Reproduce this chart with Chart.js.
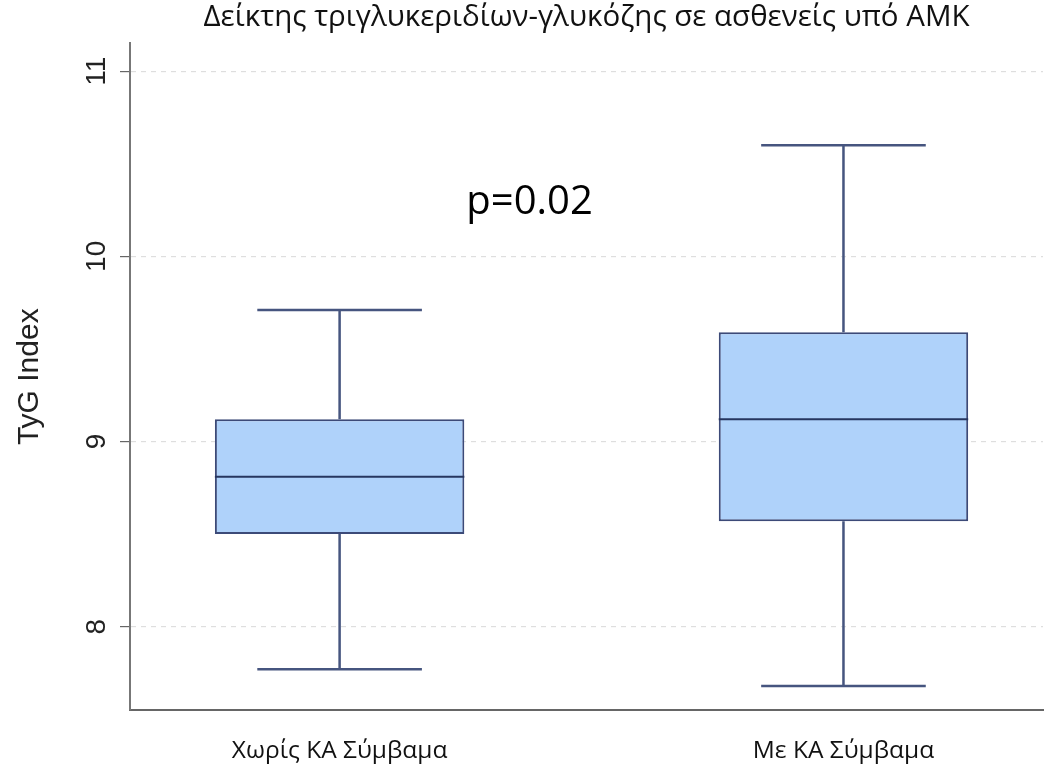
<!DOCTYPE html>
<html>
<head>
<meta charset="utf-8">
<script src="https://cdn.jsdelivr.net/npm/chart.js@4.4.0/dist/chart.umd.min.js"></script>
<style>
  html, body { margin: 0; padding: 0; background: #fff; }
  #wrap { width: 1045px; height: 767px; }
</style>
</head>
<body>
<div id="wrap"><canvas id="boxChart"></canvas></div>
<script>
// values
const groups = ['Χωρίς ΚΑ Σύμβαμα', 'Με ΚΑ Σύμβαμα'];
const groupPos = [1, 2];
const whiskerLow = [7.77, 7.68];
const q1 = [8.50, 8.57];
const median = [8.81, 9.12];
const q3 = [9.12, 9.59];
const whiskerHigh = [9.71, 10.60];
const yTicks = [8, 9, 10, 11];
const pText = 'p=0.02';
const pAt = [1.377, 10.226];

const lineColor = '#46557f';
const medianColor = '#26365f';

// whiskers, caps, median and the p-value, placed through the chart scales
const boxExtras = {
    id: 'boxExtras',
    afterDatasetsDraw(chart) {
        const ctx = chart.ctx;
        const xs = chart.scales.x;
        const ys = chart.scales.y;
        const bars = chart.getDatasetMeta(0).data;
        ctx.save();
        groupPos.forEach(function (pos, i) {
            const cx = xs.getPixelForValue(pos);
            const w = bars[i].width;
            const cap = w * 0.33;
            ctx.strokeStyle = lineColor;
            ctx.lineWidth = 2.5;
            ctx.beginPath();
            ctx.moveTo(cx, ys.getPixelForValue(q3[i]));
            ctx.lineTo(cx, ys.getPixelForValue(whiskerHigh[i]));
            ctx.moveTo(cx, ys.getPixelForValue(q1[i]));
            ctx.lineTo(cx, ys.getPixelForValue(whiskerLow[i]));
            ctx.moveTo(cx - cap, ys.getPixelForValue(whiskerHigh[i]));
            ctx.lineTo(cx + cap, ys.getPixelForValue(whiskerHigh[i]));
            ctx.moveTo(cx - cap, ys.getPixelForValue(whiskerLow[i]));
            ctx.lineTo(cx + cap, ys.getPixelForValue(whiskerLow[i]));
            ctx.stroke();
            ctx.strokeStyle = medianColor;
            ctx.lineWidth = 2;
            ctx.beginPath();
            ctx.moveTo(cx - w / 2, ys.getPixelForValue(median[i]));
            ctx.lineTo(cx + w / 2, ys.getPixelForValue(median[i]));
            ctx.stroke();
        });
        ctx.fillStyle = '#000';
        ctx.font = '40px "Open Sans"';
        ctx.textAlign = 'center';
        ctx.textBaseline = 'alphabetic';
        ctx.fillText(pText, xs.getPixelForValue(pAt[0]), ys.getPixelForValue(pAt[1]));
        ctx.restore();
    }
};

new Chart(document.getElementById('boxChart'), {
    type: 'bar',
    data: {
        datasets: [{
            data: groupPos.map(function (x, i) { return { x: x, y: [q1[i], q3[i]] }; }),
            backgroundColor: '#afd2fa',
            borderColor: '#3c4a78',
            borderWidth: 2,
            borderSkipped: false,
            barPercentage: 0.495,
            categoryPercentage: 1
        }]
    },
    options: {
        responsive: true,
        maintainAspectRatio: false,
        animation: false,
        events: [],
        layout: { padding: { top: 0, right: 2, left: 0, bottom: 0 } },
        plugins: {
            legend: { display: false },
            tooltip: { enabled: false },
            title: {
                display: true,
                fullSize: false,
                text: 'Δείκτης τριγλυκεριδίων-γλυκόζης σε ασθενείς υπό ΑΜΚ',
                color: '#111',
                font: { family: '"Open Sans"', size: 29.5, weight: 'normal' },
                padding: { top: 0, bottom: 8 }
            }
        },
        scales: {
            x: {
                type: 'linear',
                offset: false,
                min: 0.584,
                max: 2.396,
                afterBuildTicks: function (axis) {
                    axis.ticks = groupPos.map(function (v) { return { value: v }; });
                },
                afterFit: function (axis) { axis.height = 57; },
                ticks: {
                    callback: function (v) { return groups[groupPos.indexOf(v)]; },
                    color: '#111',
                    font: { family: '"Open Sans"', size: 24.5 },
                    padding: 18,
                    maxRotation: 0
                },
                grid: { display: false },
                border: { display: true, color: '#666', width: 2 }
            },
            y: {
                min: 7.55,
                max: 11.15,
                afterBuildTicks: function (axis) {
                    axis.ticks = yTicks.map(function (v) { return { value: v }; });
                },
                afterFit: function (axis) { axis.width = 130; },
                ticks: {
                    color: '#222',
                    font: { family: '"Liberation Sans"', size: 28 },
                    minRotation: 90,
                    maxRotation: 90,
                    crossAlign: 'center',
                    padding: 7
                },
                grid: { color: '#dedede', tickColor: '#666', tickLength: 10, lineWidth: 1.2 },
                border: { display: true, color: '#777', width: 2, dash: [5, 5] },
                title: {
                    display: true,
                    text: 'TyG Index',
                    color: '#222',
                    font: { family: '"Liberation Sans"', size: 30 },
                    padding: { top: 12, bottom: 0 }
                }
            }
        }
    },
    plugins: [boxExtras]
});
</script>
</body>
</html>
